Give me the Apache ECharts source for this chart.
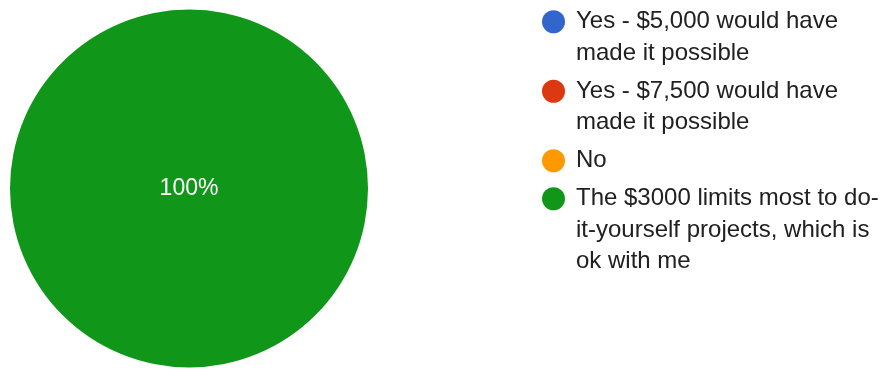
<!DOCTYPE html>
<html>
<head>
<meta charset="utf-8">
<style>
  html, body { margin: 0; padding: 0; background: #ffffff; }
  #chart { width: 882px; height: 369px; }
</style>
<script src="https://cdn.jsdelivr.net/npm/echarts@6/dist/echarts.min.js"></script>
</head>
<body>
<div id="chart"></div>
<script>
// Answer options, as named in the survey
const categories = [
  'Yes - $5,000 would have made it possible',
  'Yes - $7,500 would have made it possible',
  'No',
  'The $3000 limits most to do-it-yourself projects, which is ok with me'
];

// How each option wraps in the legend
const legendLines = [
  ['Yes - $5,000 would have', 'made it possible'],
  ['Yes - $7,500 would have', 'made it possible'],
  ['No'],
  ['The $3000 limits most to do-', 'it-yourself projects, which is', 'ok with me']
];

// Responses per option
const responses = [0, 0, 0, 1];

const sliceColors = ['#3366cc', '#dc3912', '#ff9900', '#109618'];

const FONT = '"Liberation Sans", Arial, sans-serif';
const LINE = 31.5;      // legend line height
const GAP = 6.5;        // space between legend entries
const DOT = 23;         // legend dot diameter
const ICON_W = 29;      // dot plus the space before the text

// Dot sitting level with the first text line of an entry that is h tall
function dotIcon(h) {
  const r = DOT / 2;
  const c = LINE / 2;
  return 'path://M0,0M' + ICON_W + ',' + h +
    'M0,' + c + 'A' + r + ',' + r + ',0,1,1,' + DOT + ',' + c +
    'A' + r + ',' + r + ',0,1,1,0,' + c + 'Z';
}

const legends = [];
let legendTop = 6;
categories.forEach(function (name, i) {
  const h = legendLines[i].length * LINE;
  legends.push({
    orient: 'vertical',
    left: 542,
    top: legendTop,
    padding: 0,
    itemGap: 0,
    itemWidth: ICON_W,
    itemHeight: h,
    selectedMode: false,
    data: [{ name: name, icon: dotIcon(h) }],
    formatter: function () { return legendLines[i].join('\n'); },
    textStyle: {
      fontFamily: FONT,
      fontSize: 24,
      lineHeight: LINE,
      color: '#212121'
    }
  });
  legendTop += h + GAP;
});

const chart = echarts.init(document.getElementById('chart'), null, { renderer: 'canvas' });

chart.setOption({
  animation: false,
  color: sliceColors,
  legend: legends,
  series: [{
    type: 'pie',
    center: [189, 188.5],
    radius: 179,
    startAngle: 90,
    clockwise: true,
    avoidLabelOverlap: false,
    itemStyle: { borderWidth: 0 },
    emphasis: { disabled: true },
    label: {
      show: true,
      position: 'center',
      fontFamily: FONT,
      fontSize: 23,
      color: '#ffffff',
      formatter: function (p) { return p.value > 0 ? Math.round(p.percent) + '%' : ''; }
    },
    labelLine: { show: false },
    data: categories.map(function (name, i) {
      return { name: name, value: responses[i] };
    })
  }]
});
</script>
</body>
</html>
